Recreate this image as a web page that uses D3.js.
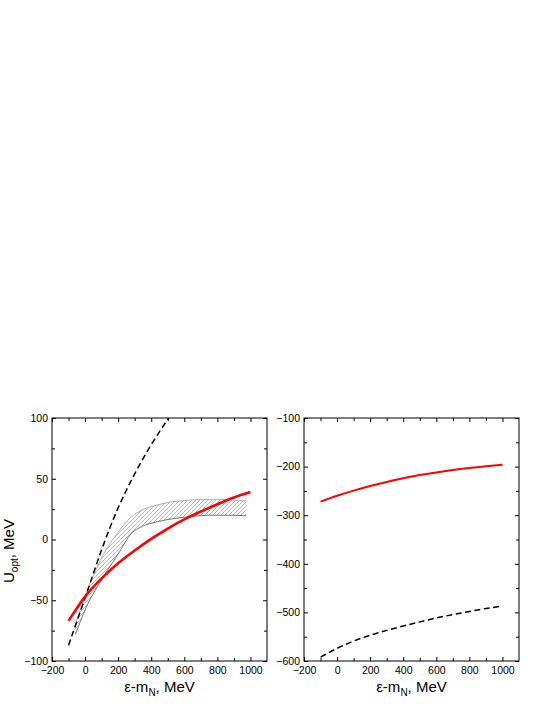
<!DOCTYPE html>
<html>
<head>
<meta charset="utf-8">
<script src="https://cdn.jsdelivr.net/npm/d3@7"></script>
<style>
body { margin: 0; background: #fff; }
text { font-family: "Liberation Sans", Arial, sans-serif; fill: #000; }
</style>
</head>
<body>
<script>
// tick values
var xTicks = [-200, 0, 200, 400, 600, 800, 1000];
var leftYTicks = [-100, -50, 0, 50, 100];
var rightYTicks = [-600, -500, -400, -300, -200, -100];

// left panel
var redE = [-100, 0, 100, 200, 300, 400, 500, 600, 700, 800, 900, 1000];
var leftRed = [-67, -47, -32, -19.5, -9, 0.5, 9, 16.5, 23, 29, 34.5, 39];
var leftDashE = [-100, 0, 100, 200, 300, 400, 505];
var leftDash = [-87, -48, -8.5, 26, 54, 78, 100];
var upperE = [-65, 0, 100, 200, 260, 340, 440, 525, 600, 700, 800, 900, 975];
var bandUpper = [-72, -47, -15, 6, 16, 24, 28.5, 31, 32, 33, 33, 32.5, 32];
var lowerE = [-58, 0, 100, 200, 280, 340, 440, 550, 650, 750, 850, 975];
var bandLower = [-78, -58, -33, -12, 5, 10.5, 14.7, 17.5, 19, 20, 20, 19.5];

// right panel
var rightRed = [-272, -260, -249.5, -240, -231.5, -224, -217.5, -212, -207, -203, -199.5, -196];
var rightDash = [-592, -574, -559, -547, -537, -528, -519.5, -511.5, -504.5, -498, -492, -487];

var width = 545, height = 705;

var svg = d3.select("body").append("svg")
    .attr("width", width)
    .attr("height", height);

var defs = svg.append("defs");
var hatch = defs.append("pattern")
    .attr("id", "hatch")
    .attr("patternUnits", "userSpaceOnUse")
    .attr("width", 4)
    .attr("height", 4);
hatch.append("path")
    .attr("d", "M-1,1 l2,-2 M0,4 l4,-4 M3,5 l2,-2")
    .attr("stroke", "#8a8a8a")
    .attr("stroke-width", 0.6);

function zip(xs, ys) {
    return xs.map(function(x, i) { return {x: x, y: ys[i]}; });
}

function panel(opts) {
    var x = d3.scaleLinear().domain([-200, 1100]).range([opts.left, opts.right]);
    var y = d3.scaleLinear().domain(opts.yDomain).range([661, 418]);

    var g = svg.append("g");

    defs.append("clipPath").attr("id", opts.id + "-clip")
        .append("rect")
        .attr("x", opts.left).attr("y", 418)
        .attr("width", opts.right - opts.left).attr("height", 243);

    var minorX = d3.range(-100, 1100, 200);
    var minorY = opts.minorY;

    // inward ticks on all four sides
    var bottom = d3.axisBottom(x).tickValues(xTicks).tickSizeInner(-4).tickSizeOuter(0).tickPadding(6).tickFormat(d3.format("d"));
    g.append("g").attr("transform", "translate(0,661)").call(bottom);
    g.append("g").attr("transform", "translate(0,661)")
        .call(d3.axisBottom(x).tickValues(minorX).tickSizeInner(-3).tickSizeOuter(0).tickFormat(""));
    g.append("g").attr("transform", "translate(0,418)")
        .call(d3.axisTop(x).tickValues(xTicks).tickSizeInner(-4).tickSizeOuter(0).tickFormat(""));
    g.append("g").attr("transform", "translate(0,418)")
        .call(d3.axisTop(x).tickValues(minorX).tickSizeInner(-3).tickSizeOuter(0).tickFormat(""));

    g.append("g").attr("transform", "translate(" + opts.left + ",0)")
        .call(d3.axisLeft(y).tickValues(opts.yTicks).tickSizeInner(-4).tickSizeOuter(0).tickPadding(4).tickFormat(d3.format("d")));
    g.append("g").attr("transform", "translate(" + opts.left + ",0)")
        .call(d3.axisLeft(y).tickValues(minorY).tickSizeInner(-3).tickSizeOuter(0).tickFormat(""));
    g.append("g").attr("transform", "translate(" + opts.right + ",0)")
        .call(d3.axisRight(y).tickValues(opts.yTicks).tickSizeInner(-4).tickSizeOuter(0).tickFormat(""));
    g.append("g").attr("transform", "translate(" + opts.right + ",0)")
        .call(d3.axisRight(y).tickValues(minorY).tickSizeInner(-3).tickSizeOuter(0).tickFormat(""));

    g.selectAll(".domain").remove();
    g.selectAll(".tick line").attr("stroke", "#000").attr("stroke-width", 1);
    g.selectAll(".tick text").attr("font-size", 10.5).attr("fill", "#000");

    g.append("rect")
        .attr("x", opts.left).attr("y", 418)
        .attr("width", opts.right - opts.left).attr("height", 243)
        .attr("fill", "none").attr("stroke", "#000").attr("stroke-width", 1);

    var body = g.append("g").attr("clip-path", "url(#" + opts.id + "-clip)");
    var line = d3.line()
        .x(function(d) { return x(d.x); })
        .y(function(d) { return y(d.y); })
        .curve(d3.curveMonotoneX);
    var smooth = d3.line()
        .x(function(d) { return x(d.x); })
        .y(function(d) { return y(d.y); })
        .curve(d3.curveNatural);

    return {g: g, body: body, x: x, y: y, line: line, smooth: smooth};
}

// left panel
var L = panel({
    id: "left", left: 52, right: 267,
    yDomain: [-100, 100], yTicks: leftYTicks,
    minorY: [-75, -25, 25, 75]
});

var upperPts = zip(upperE, bandUpper);
var lowerPts = zip(lowerE, bandLower);
var bandPath = L.line(upperPts) + "L" + L.line(lowerPts.slice().reverse()).slice(1) + "Z";
L.body.append("path")
    .attr("d", bandPath)
    .attr("fill", "url(#hatch)")
    .attr("stroke", "none");
L.body.append("path")
    .attr("d", L.line(upperPts))
    .attr("fill", "none").attr("stroke", "#9a9a9a").attr("stroke-width", 0.8);
L.body.append("path")
    .attr("d", L.line(lowerPts))
    .attr("fill", "none").attr("stroke", "#505050").attr("stroke-width", 0.8);

L.body.append("path")
    .attr("d", L.smooth(zip(leftDashE, leftDash)))
    .attr("fill", "none").attr("stroke", "#000").attr("stroke-width", 1.5)
    .attr("stroke-dasharray", "6,3.5");
L.body.append("path")
    .attr("d", L.smooth(zip(redE, leftRed)))
    .attr("fill", "none").attr("stroke", "#f00").attr("stroke-width", 2.6);

// right panel
var R = panel({
    id: "right", left: 304, right: 519,
    yDomain: [-600, -100], yTicks: rightYTicks,
    minorY: [-550, -450, -350, -250, -150]
});
R.body.append("path")
    .attr("d", R.smooth(zip(redE, rightRed)))
    .attr("fill", "none").attr("stroke", "#f00").attr("stroke-width", 2);
R.body.append("path")
    .attr("d", R.smooth(zip(redE, rightDash)))
    .attr("fill", "none").attr("stroke", "#000").attr("stroke-width", 1.5)
    .attr("stroke-dasharray", "6,3.5");

// axis titles
function xTitle(cx) {
    var t = svg.append("text")
        .attr("x", cx).attr("y", 692)
        .attr("text-anchor", "middle")
        .attr("font-size", 15);
    t.append("tspan").text("\u03b5-m");
    t.append("tspan").attr("font-size", 10).attr("dy", 4).text("N");
    t.append("tspan").attr("dy", -4).text(", MeV");
}
xTitle(159.5);
xTitle(411.5);

var yt = svg.append("text")
    .attr("transform", "translate(14,551) rotate(-90)")
    .attr("text-anchor", "middle")
    .attr("font-size", 15);
yt.append("tspan").text("U");
yt.append("tspan").attr("font-size", 10).attr("dy", 4).text("opt");
yt.append("tspan").attr("dy", -4).text(", MeV");
</script>
</body>
</html>
